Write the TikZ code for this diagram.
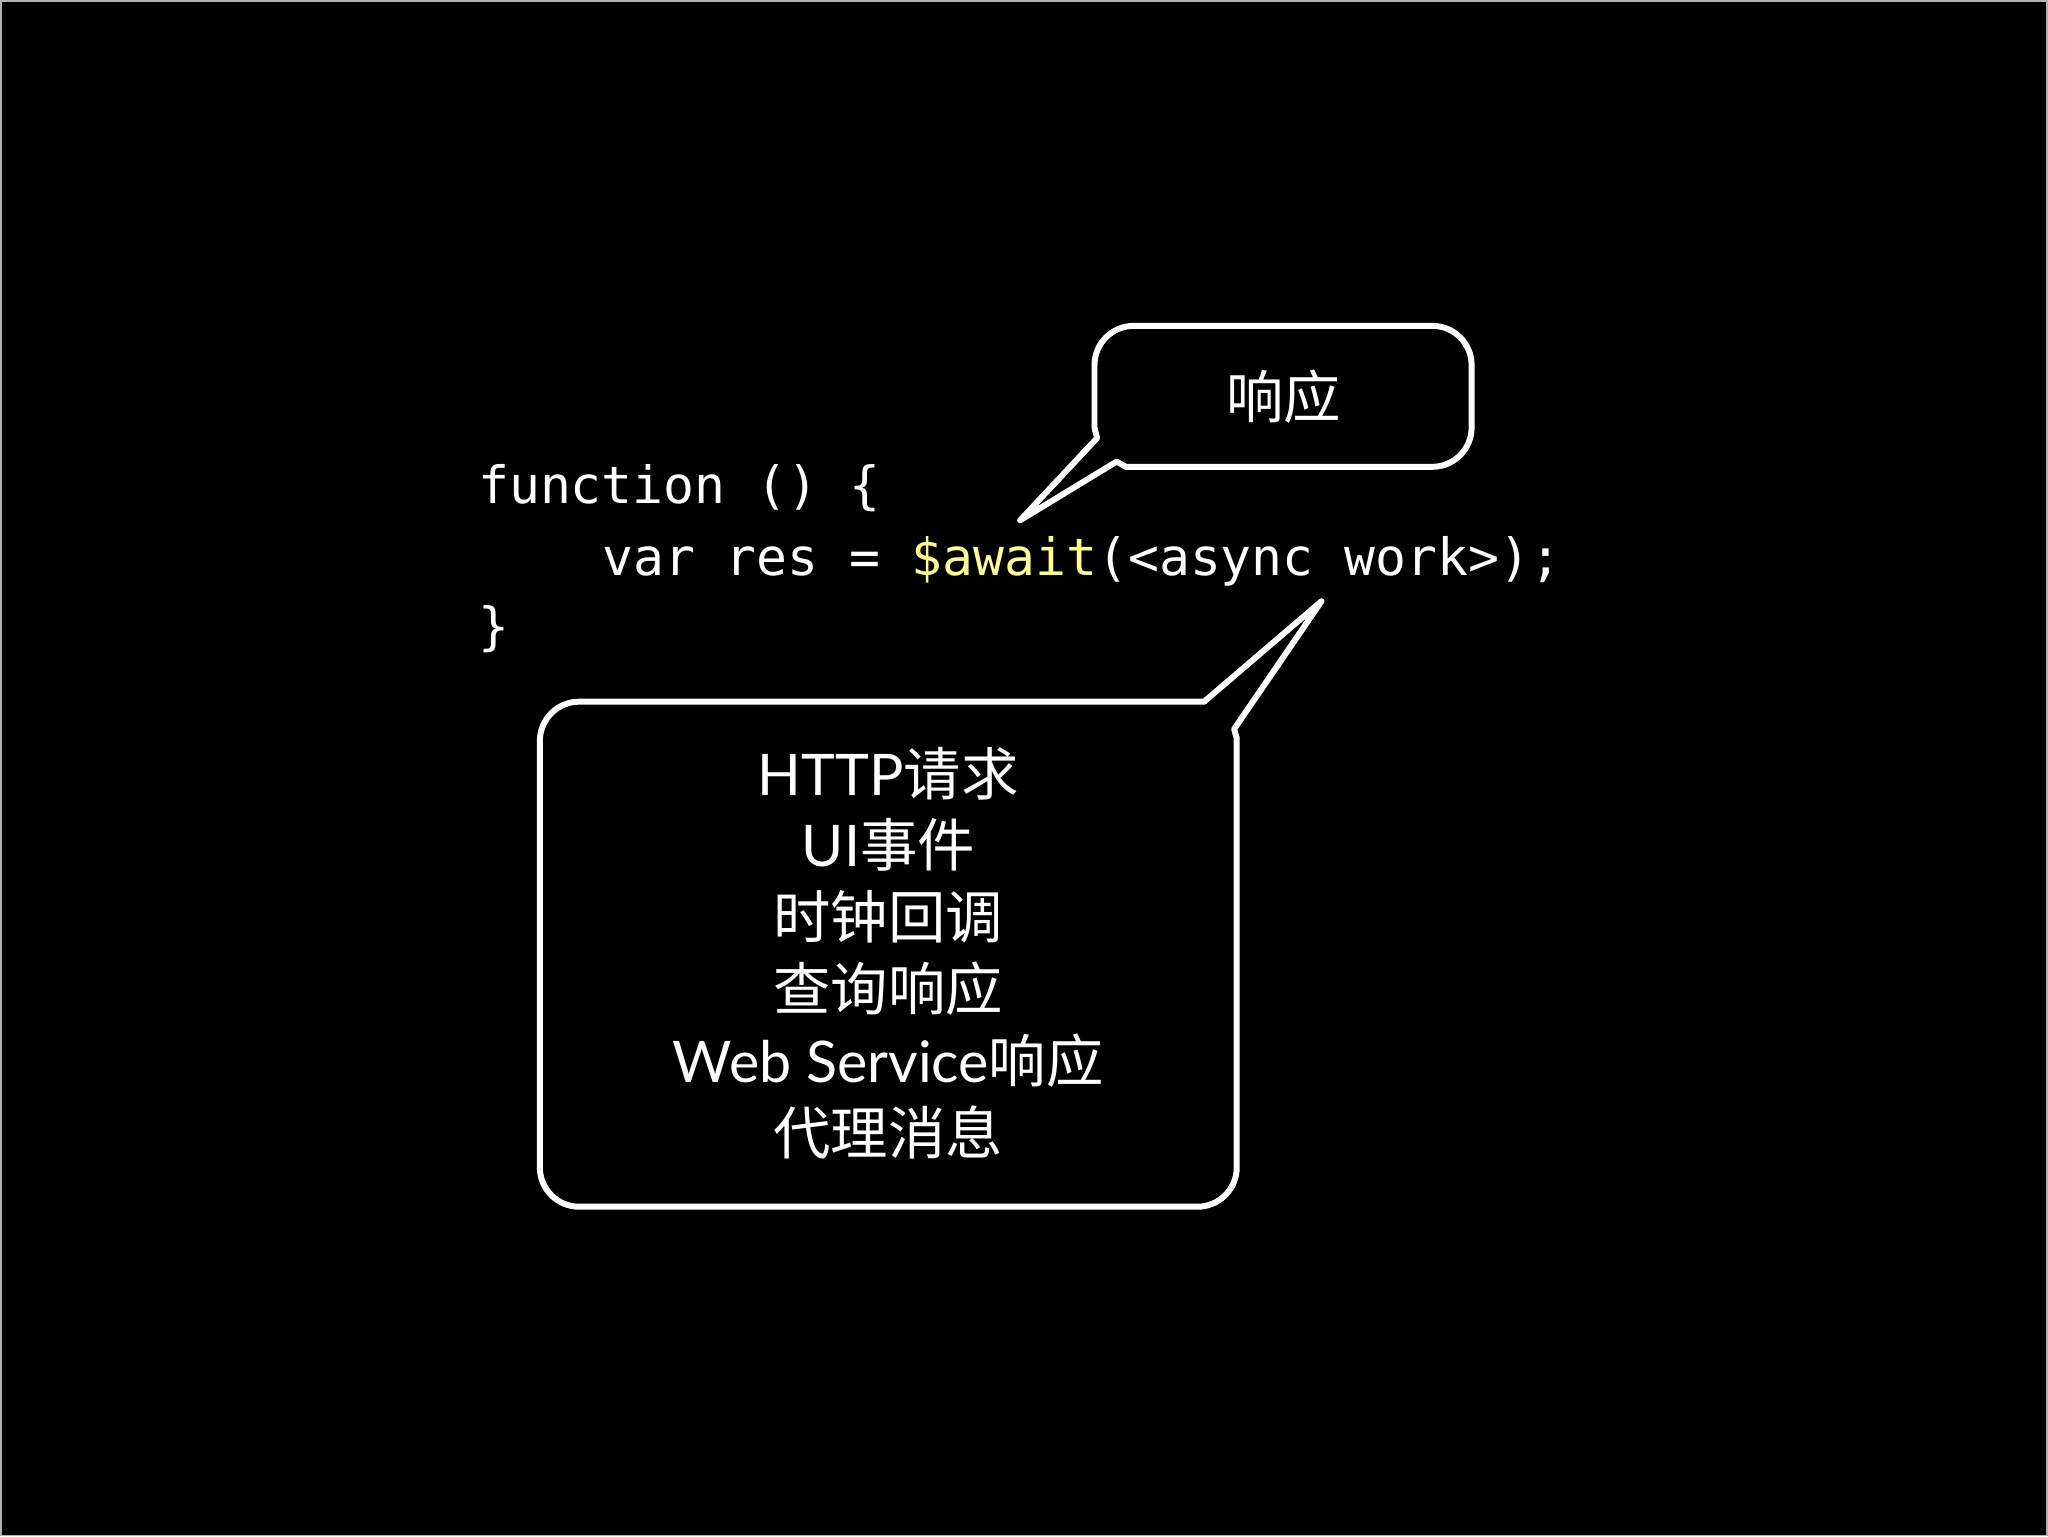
\documentclass[tikz,border=0pt]{standalone}
\usepackage{fontspec}
\setmainfont{Lato}
\setmonofont{DejaVu Sans Mono}
\newfontfamily\cjk{Noto Sans CJK SC}
\definecolor{codey}{RGB}{255,255,140}
\begin{document}
\begin{tikzpicture}[x=0.01cm,y=-0.01cm,
  bubble/.style={draw=white,line width=1.3pt,line join=round},
  code/.style={text=white,font=\ttfamily\fontsize{11.2}{13}\selectfont,anchor=base west,inner sep=0},
  lbl/.style={text=white,font=\fontsize{12.5}{15.5}\selectfont,align=center}]
\fill[black] (0,0) rectangle (1568,1176);
\draw[gray!60,line width=0.4pt] (0,0) rectangle (1568,1176);
\node[code] (l1) at (365,385) {function () \{};
\node[code] (l2) at (460,440) {var res = \textcolor{codey}{\$await}(<async work>);};
\node[code] (l3) at (365,493) {\}};
\draw[bubble] (855,353) -- (862,357) -- (1097,357) .. controls (1113.5,357) and (1127,343.5) .. (1127,327) -- (1127,279) .. controls (1127,262.5) and (1113.5,249) .. (1097,249) -- (868,249) .. controls (851.5,249) and (838,262.5) .. (838,279) -- (838,327) -- (840,335) -- (781,398) -- cycle;
\node[lbl] (resp) at (983,303) {\cjk 响应};
\draw[bubble] (922,537) -- (443,537) .. controls (426.5,537) and (413,550.5) .. (413,567) -- (413,894) .. controls (413,910.5) and (426.5,924) .. (443,924) -- (917,924) .. controls (933.5,924) and (947,910.5) .. (947,894) -- (947,565) -- (945,558) -- (1012,460) -- cycle;
\node[lbl] (t1) at (680,592) {HTTP{\cjk 请求}};
\node[lbl] (t2) at (680,647) {UI{\cjk 事件}};
\node[lbl] (t3) at (680,702) {\cjk 时钟回调};
\node[lbl] (t4) at (680,757) {\cjk 查询响应};
\node[lbl] (t5) at (680,812) {Web Service{\cjk 响应}};
\node[lbl] (t6) at (680,867) {\cjk 代理消息};
\end{tikzpicture}
\end{document}
